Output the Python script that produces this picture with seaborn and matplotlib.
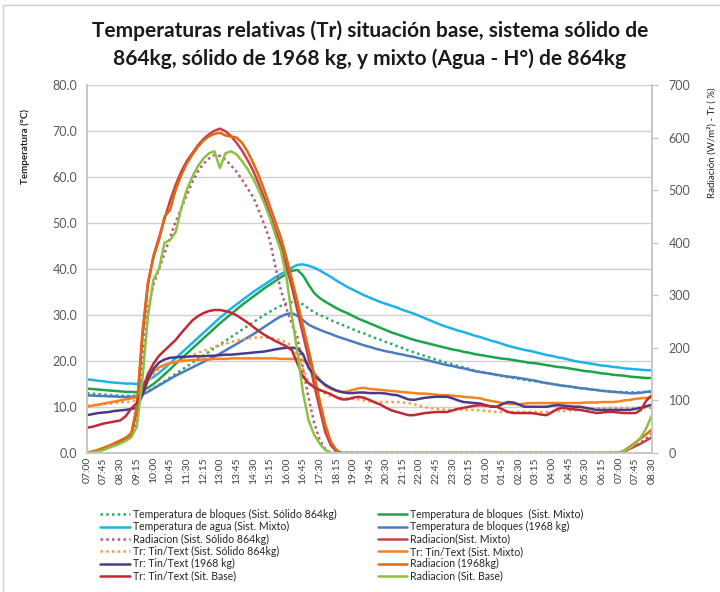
import numpy as np
import pandas as pd
import matplotlib
matplotlib.use("Agg")
import matplotlib.pyplot as plt
from matplotlib.patches import Rectangle
import seaborn as sns

# 15-minute readings, 07:00 day 1 -> 08:30 day 2
hora = pd.date_range("2000-01-01 07:00", "2000-01-02 08:30", freq="15min").strftime("%H:%M").tolist()

# --- temperatures (left axis, °C) ---
t_bloques_864 = [
    13.0, 12.9, 12.8, 12.7, 12.6, 12.5, 12.5, 12.4, 12.4, 12.5,
    12.8, 13.4, 14.1, 14.8, 15.6, 16.4, 17.2, 18.0, 18.8, 19.6,
    20.4, 21.2, 22.0, 22.8, 23.6, 24.4, 25.2, 26.0, 26.8, 27.6,
    28.4, 29.2, 30.0, 30.7, 31.4, 32.0, 32.5, 32.8, 32.9, 32.3,
    31.4, 30.6, 30.0, 29.5, 28.9, 28.4, 27.9, 27.4, 26.9, 26.4,
    26.0, 25.5, 25.0, 24.6, 24.1, 23.7, 23.2, 22.8, 22.3, 21.9,
    21.5, 21.1, 20.7, 20.3, 20.0, 19.6, 19.3, 18.9, 18.6, 18.3,
    17.9, 17.6, 17.4, 17.2, 16.9, 16.7, 16.5, 16.3, 16.1, 15.9,
    15.7, 15.6, 15.4, 15.2, 15.0, 14.8, 14.6, 14.5, 14.3, 14.1,
    14.0, 13.8, 13.7, 13.6, 13.4, 13.3, 13.3, 13.2, 13.2, 13.2,
    13.2, 13.3, 13.3]
t_bloques_mixto = [
    14.0, 13.9, 13.8, 13.7, 13.6, 13.5, 13.4, 13.3, 13.3, 13.2,
    13.5, 14.2, 15.0, 16.0, 17.1, 18.2, 19.4, 20.5, 21.6, 22.7,
    23.8, 24.9, 26.0, 27.1, 28.2, 29.2, 30.2, 31.2, 32.2, 33.1,
    34.0, 34.9, 35.8, 36.6, 37.4, 38.2, 38.9, 39.6, 39.8, 38.6,
    36.6, 34.8, 33.7, 32.9, 32.2, 31.5, 30.9, 30.4, 29.8, 29.2,
    28.7, 28.2, 27.7, 27.2, 26.7, 26.2, 25.8, 25.4, 25.0, 24.6,
    24.3, 24.0, 23.7, 23.4, 23.1, 22.8, 22.5, 22.3, 22.0, 21.8,
    21.5, 21.3, 21.1, 20.9, 20.7, 20.5, 20.4, 20.2, 20.0, 19.8,
    19.6, 19.5, 19.3, 19.1, 18.9, 18.7, 18.6, 18.4, 18.2, 18.0,
    17.8, 17.7, 17.5, 17.3, 17.2, 17.0, 16.9, 16.8, 16.6, 16.5,
    16.4, 16.3, 16.3]
t_agua_mixto = [
    16.0, 15.9, 15.7, 15.6, 15.4, 15.3, 15.2, 15.1, 15.1, 15.0,
    15.2, 15.8, 16.5, 17.4, 18.4, 19.5, 20.6, 21.7, 22.8, 23.9,
    25.0, 26.1, 27.2, 28.3, 29.4, 30.4, 31.4, 32.3, 33.2, 34.1,
    35.0, 35.8, 36.6, 37.4, 38.2, 38.9, 39.6, 40.3, 40.9, 41.0,
    40.7, 40.3, 39.7, 39.0, 38.3, 37.5, 36.8, 36.1, 35.5, 34.9,
    34.3, 33.8, 33.3, 32.8, 32.4, 32.0, 31.6, 31.1, 30.7, 30.3,
    29.8, 29.3, 28.8, 28.3, 27.8, 27.4, 27.0, 26.6, 26.3, 25.9,
    25.5, 25.2, 24.8, 24.4, 24.1, 23.7, 23.3, 23.0, 22.7, 22.4,
    22.2, 21.9, 21.6, 21.3, 21.1, 20.8, 20.6, 20.3, 20.0, 19.8,
    19.6, 19.4, 19.2, 19.0, 18.9, 18.7, 18.6, 18.4, 18.3, 18.2,
    18.1, 18.0, 18.0]
t_bloques_1968 = [
    12.5, 12.5, 12.4, 12.4, 12.3, 12.3, 12.2, 12.2, 12.2, 12.3,
    12.7, 13.3, 14.0, 14.7, 15.4, 16.1, 16.8, 17.4, 18.0, 18.6,
    19.2, 19.8, 20.4, 21.0, 21.6, 22.3, 23.0, 23.7, 24.4, 25.1,
    25.8, 26.6, 27.4, 28.2, 29.0, 29.7, 30.2, 30.4, 29.8, 28.9,
    27.9, 27.3, 26.8, 26.3, 25.9, 25.4, 25.0, 24.6, 24.2, 23.8,
    23.4, 23.1, 22.7, 22.4, 22.1, 21.9, 21.6, 21.4, 21.1, 20.9,
    20.6, 20.3, 20.0, 19.7, 19.4, 19.1, 18.9, 18.6, 18.4, 18.1,
    17.8, 17.6, 17.4, 17.2, 17.0, 16.8, 16.6, 16.5, 16.3, 16.1,
    15.9, 15.7, 15.4, 15.2, 15.0, 14.8, 14.6, 14.5, 14.3, 14.1,
    14.0, 13.8, 13.7, 13.5, 13.4, 13.3, 13.2, 13.1, 13.0, 13.0,
    13.1, 13.3, 13.4]

# --- radiation (right axis, W/m2); zero through the night ---
rad_864 = [
    0, 2, 4, 7, 11, 15, 20, 25, 32, 60,
    170, 275, 320, 350, 380, 410, 440, 465, 490, 515,
    535, 550, 560, 567, 565, 558, 547, 535, 520, 503,
    487, 462, 435, 405, 355, 310, 275, 245, 220, 160,
    105, 58, 25, 8, 0, 0] + [0] * 51 + [3, 8, 14, 20, 28, 38]
rad_mixto = [
    0, 2, 5, 9, 13, 17, 22, 27, 35, 80,
    220, 320, 375, 410, 445, 480, 510, 535, 555, 570,
    585, 597, 606, 613, 617, 612, 603, 590, 575, 557,
    537, 512, 485, 455, 425, 395, 355, 315, 270, 225,
    180, 130, 85, 40, 15, 3] + [0] * 51 + [3, 8, 13, 18, 24, 30]
rad_1968 = [
    0, 3, 6, 10, 14, 19, 24, 29, 38, 90,
    230, 325, 372, 405, 450, 462, 500, 528, 550, 567,
    582, 594, 602, 607, 609, 604, 602, 600, 590, 573,
    552, 528, 500, 470, 440, 410, 372, 330, 287, 242,
    197, 150, 100, 55, 22, 6] + [0] * 51 + [5, 12, 20, 28, 36, 45]
rad_base = [
    0, 1, 3, 6, 10, 14, 18, 23, 30, 50,
    140, 260, 330, 350, 400, 405, 420, 465, 500, 525,
    545, 560, 570, 574, 542, 570, 574, 568, 555, 540,
    522, 500, 475, 448, 415, 385, 335, 260, 190, 115,
    62, 35, 18, 6] + [0] * 53 + [4, 10, 18, 30, 48, 72]

# --- relative temperature Tin/Text (right axis, %) ---
tr_864 = [
    90, 91, 92, 93, 94, 95, 96, 97, 98, 100,
    115, 135, 150, 160, 166, 170, 174, 178, 182, 186,
    190, 194, 198, 202, 205, 208, 211, 214, 216, 218,
    219, 220, 220, 219, 217, 215, 210, 204, 185, 160,
    135, 124, 118, 113, 109, 107, 105, 104, 103, 102,
    100, 98, 97, 97, 97, 97, 97, 96, 95, 93,
    90, 87, 85, 84, 83, 82, 82, 82, 82, 82,
    82, 81, 80, 79, 78, 78, 78, 78, 78, 78,
    78, 78, 78, 78, 79, 80, 80, 81, 81, 82,
    83, 84, 85, 85, 86, 86, 86, 86, 86, 86,
    86, 86, 86]
tr_mixto = [
    88, 90, 92, 94, 96, 98, 100, 102, 104, 106,
    120, 140, 155, 163, 168, 171, 173, 175, 176, 177,
    177, 178, 178, 179, 179, 179, 180, 180, 180, 180,
    180, 180, 180, 180, 180, 179, 179, 179, 179, 176,
    168, 152, 140, 128, 122, 118, 116, 117, 120, 123,
    124, 122, 121, 120, 119, 118, 117, 116, 115, 114,
    113, 113, 112, 111, 110, 110, 109, 108, 107, 106,
    105, 104, 101, 99, 97, 95, 94, 93, 93, 94,
    95, 95, 95, 95, 95, 95, 95, 95, 95, 95,
    96, 96, 96, 97, 97, 97, 98, 100, 101, 103,
    104, 105, 106]
tr_1968 = [
    72, 74, 76, 77, 78, 80, 81, 82, 84, 86,
    110, 140, 160, 172, 178, 181, 182, 183, 183, 184,
    184, 184, 185, 185, 186, 187, 187, 188, 189, 190,
    191, 192, 193, 195, 197, 199, 200, 200, 199, 188,
    162, 148, 138, 130, 124, 119, 116, 114, 114, 115,
    115, 114, 114, 114, 113, 111, 110, 106, 102, 101,
    103, 105, 106, 107, 107, 107, 104, 100, 97, 96,
    95, 94, 91, 88, 88, 93, 97, 96, 92, 88,
    88, 88, 88, 88, 90, 91, 90, 89, 88, 88,
    86, 84, 82, 82, 82, 82, 82, 82, 82, 84,
    86, 89, 92]
tr_base = [
    48, 50, 53, 56, 58, 60, 62, 70, 85, 95,
    120, 150, 170, 185, 195, 205, 215, 228, 240, 252,
    260, 266, 270, 272, 272, 270, 267, 262, 255, 248,
    240, 232, 225, 219, 213, 208, 203, 195, 170, 145,
    133, 125, 120, 116, 112, 106, 102, 102, 105, 107,
    105, 101, 96, 92, 86, 81, 78, 75, 72, 72,
    74, 76, 77, 78, 78, 78, 81, 84, 86, 88,
    90, 91, 90, 89, 88, 83, 78, 76, 76, 76,
    76, 75, 73, 72, 78, 84, 86, 84, 83, 82,
    80, 78, 76, 77, 78, 78, 77, 76, 76, 76,
    82, 100, 110]

titulo_1 = "Temperaturas relativas (Tr) situación base, sistema sólido de"
titulo_2 = "864kg, sólido de 1968 kg, y mixto (Agua - H°) de 864kg"

DOT = (0, (1, 1.3))
left_series = [
    (t_bloques_864, "Temperatura de bloques (Sist. Sólido 864kg)", "#33a862", DOT),
    (t_bloques_mixto, "Temperatura de bloques  (Sist. Mixto)", "#1ea34a", "-"),
    (t_agua_mixto, "Temperatura de agua (Sist. Mixto)", "#1fb2e8", "-"),
    (t_bloques_1968, "Temperatura de bloques (1968 kg)", "#4a7cc0", "-"),
]
right_series = [
    (rad_864, "Radiacion (Sist. Sólido 864kg)", "#b45a80", DOT),
    (rad_mixto, "Radiacion(Sist. Mixto)", "#c8404c", "-"),
    (tr_864, "Tr: Tin/Text (Sist. Sólido 864kg)", "#f0a040", DOT),
    (tr_mixto, "Tr: Tin/Text (Sist. Mixto)", "#f5821f", "-"),
    (tr_1968, "Tr: Tin/Text (1968 kg)", "#4a3a8c", "-"),
    (rad_1968, "Radiacion (1968kg)", "#e06a12", "-"),
    (tr_base, "Tr: Tin/Text (Sit. Base)", "#bf2a36", "-"),
    (rad_base, "Radiacion (Sit. Base)", "#8fc043", "-"),
]

sns.set_theme(style="white")
plt.rcParams["font.family"] = ["Lato", "DejaVu Sans"]

fig = plt.figure(figsize=(7.2, 5.92), dpi=100)
ax = fig.add_axes([87 / 720, 1 - 453 / 592, 565 / 720, 368 / 592])
ax2 = ax.twinx()

x = np.arange(len(hora))
for vals, lab, col, ls in left_series:
    sns.lineplot(x=x, y=vals, ax=ax, color=col, linestyle=ls, linewidth=1.8, label=lab, legend=False)
for vals, lab, col, ls in right_series:
    sns.lineplot(x=x, y=vals, ax=ax2, color=col, linestyle=ls, linewidth=1.8, label=lab, legend=False)

ax.set_xlim(0, len(hora) - 1)
ax.set_ylim(0, 80)
ax2.set_ylim(0, 700)
ax.set_yticks(np.arange(0, 81, 10))
ax.set_yticklabels([f"{v:.1f}" for v in np.arange(0, 81, 10)])
ax2.set_yticks(np.arange(0, 701, 100))
ax.set_xticks(x[::3])
ax.set_xticklabels(hora[::3], rotation=90)
ax.grid(axis="y", color="#d0d0d0", linewidth=1)
ax.set_xlabel("")
ax.set_ylabel("")
ax2.set_ylabel("")

for a in (ax, ax2):
    for s in a.spines.values():
        s.set_color("#c8c8c8")
    a.spines["top"].set_visible(False)
ax.tick_params(axis="y", length=0, pad=7, labelsize=9, labelcolor="#595959")
ax.tick_params(axis="x", length=0, pad=3, labelsize=7.5, labelcolor="#404040")
ax2.tick_params(axis="y", length=4, width=1, color="#c8c8c8", direction="out",
                pad=8, labelsize=9, labelcolor="#595959")

fig.text(370 / 720, 1 - 31 / 592, titulo_1, ha="center", va="center", fontsize=15, fontweight="bold", color="#1a1a1a")
fig.text(370 / 720, 1 - 59 / 592, titulo_2, ha="center", va="center", fontsize=15, fontweight="bold", color="#1a1a1a")
fig.text(25 / 720, 1 - 147 / 592, "Temperatura (°C)", rotation=90, ha="center", va="center",
         fontsize=7, fontweight="bold", color="#222222")
fig.text(712 / 720, 1 - 143 / 592, "Radiación (W/m²) - Tr ( %)", rotation=90, ha="center", va="center",
         fontsize=7, color="#222222")

# legend: left column then right column
h1, l1 = ax.get_legend_handles_labels()
h2, l2 = ax2.get_legend_handles_labels()
lookup = dict(zip(l1 + l2, h1 + h2))
order = [
    "Temperatura de bloques (Sist. Sólido 864kg)", "Temperatura de agua (Sist. Mixto)",
    "Radiacion (Sist. Sólido 864kg)", "Tr: Tin/Text (Sist. Sólido 864kg)",
    "Tr: Tin/Text (1968 kg)", "Tr: Tin/Text (Sit. Base)",
    "Temperatura de bloques  (Sist. Mixto)", "Temperatura de bloques (1968 kg)",
    "Radiacion(Sist. Mixto)", "Tr: Tin/Text (Sist. Mixto)",
    "Radiacion (1968kg)", "Radiacion (Sit. Base)",
]
fig.legend([lookup[k] for k in order], order, loc="upper left",
           bbox_to_anchor=(100 / 720, 1 - 509 / 592), ncol=2, frameon=False,
           fontsize=7.6, handlelength=2.8, handletextpad=0.3, labelspacing=0.12,
           columnspacing=3.9, borderaxespad=0, borderpad=0)

fig.add_artist(Rectangle((3 / 720, -0.01), 1.0, 1 - 5 / 592 + 0.01, transform=fig.transFigure,
                         fill=False, edgecolor="#d0d0d0", linewidth=1))

fig.savefig("out.png", dpi=100)
